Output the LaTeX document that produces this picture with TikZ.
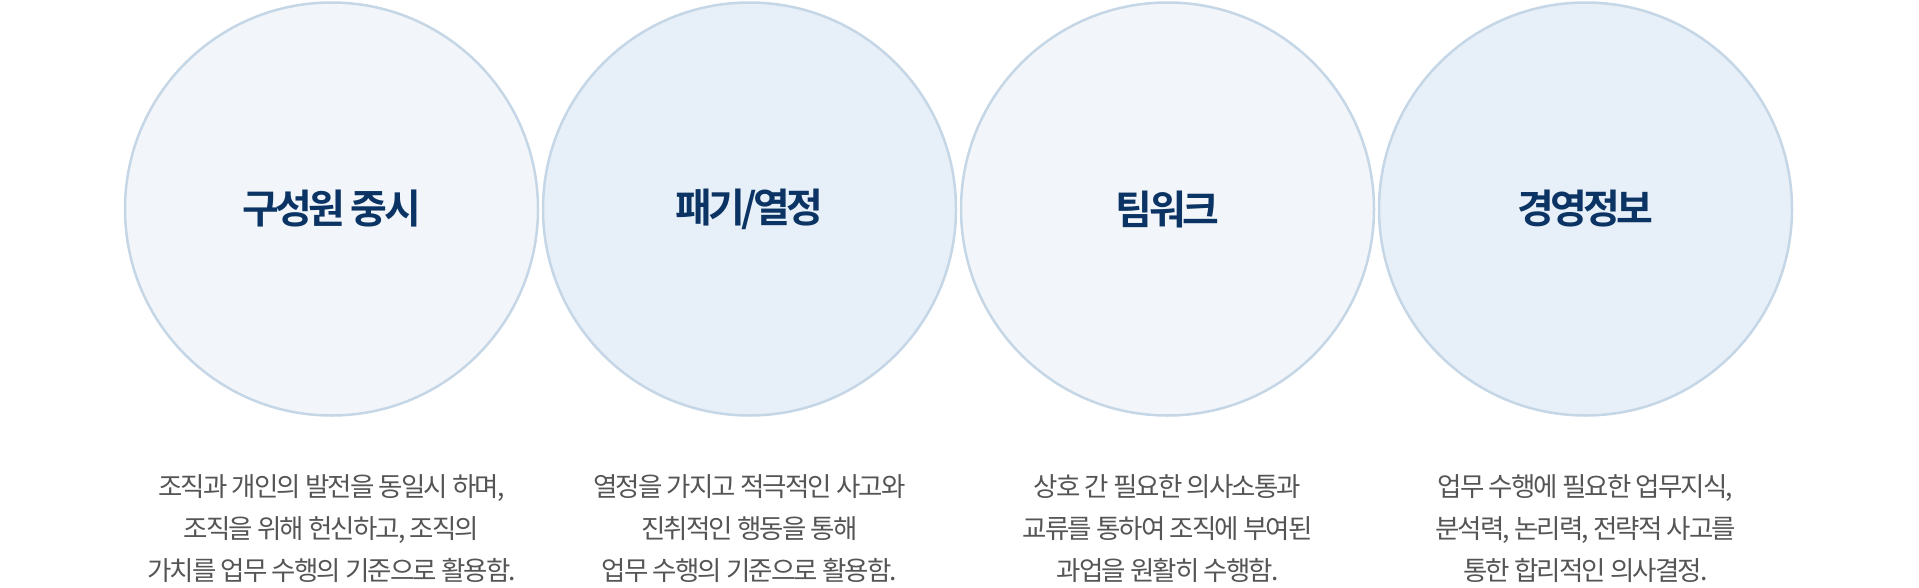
\documentclass[tikz,border=0pt]{standalone}
\usepackage{fontspec}
\newfontfamily\kr[LetterSpace=-7]{Noto Sans CJK KR}
\newfontfamily\krb[LetterSpace=-9]{Noto Sans CJK KR Bold}
\definecolor{lightfill}{HTML}{F2F6FA}
\definecolor{darkfill}{HTML}{E7F0F8}
\definecolor{ringcol}{HTML}{C5D6E6}
\definecolor{titlecol}{HTML}{0B3464}
\definecolor{desccol}{HTML}{555555}
\tikzset{
  ring/.style={circle, draw=ringcol, line width=2.5pt, minimum size=413pt, inner sep=0pt,
    text=titlecol, font=\krb\fontsize{40}{44}\selectfont},
  ringa/.style={ring, fill=lightfill},
  ringb/.style={ring, fill=darkfill},
  desc/.style={align=center, text=desccol, font=\kr\fontsize{26.5}{42}\selectfont, inner sep=0pt}
}
\begin{document}
\begin{tikzpicture}[x=1pt,y=-1pt]
\useasboundingbox (0,0) rectangle (1919,587);
\node[ringa] (c1) at (331.5,209) {구성원 중시};
\node[ringb] (c2) at (749.5,209) {패기/열정};
\node[ringa] (c3) at (1167.5,209) {팀워크};
\node[ringb] (c4) at (1585.5,209) {경영정보};
\node[desc] (d1) at (331.5,529) {조직과 개인의 발전을 동일시 하며,\\조직을 위해 헌신하고, 조직의\\가치를 업무 수행의 기준으로 활용함.};
\node[desc] (d2) at (749.5,529) {열정을 가지고 적극적인 사고와\\진취적인 행동을 통해\\업무 수행의 기준으로 활용함.};
\node[desc] (d3) at (1167.5,529) {상호 간 필요한 의사소통과\\교류를 통하여 조직에 부여된\\과업을 원활히 수행함.};
\node[desc] (d4) at (1585.5,529) {업무 수행에 필요한 업무지식,\\분석력, 논리력, 전략적 사고를\\통한 합리적인 의사결정.};
\end{tikzpicture}
\end{document}
